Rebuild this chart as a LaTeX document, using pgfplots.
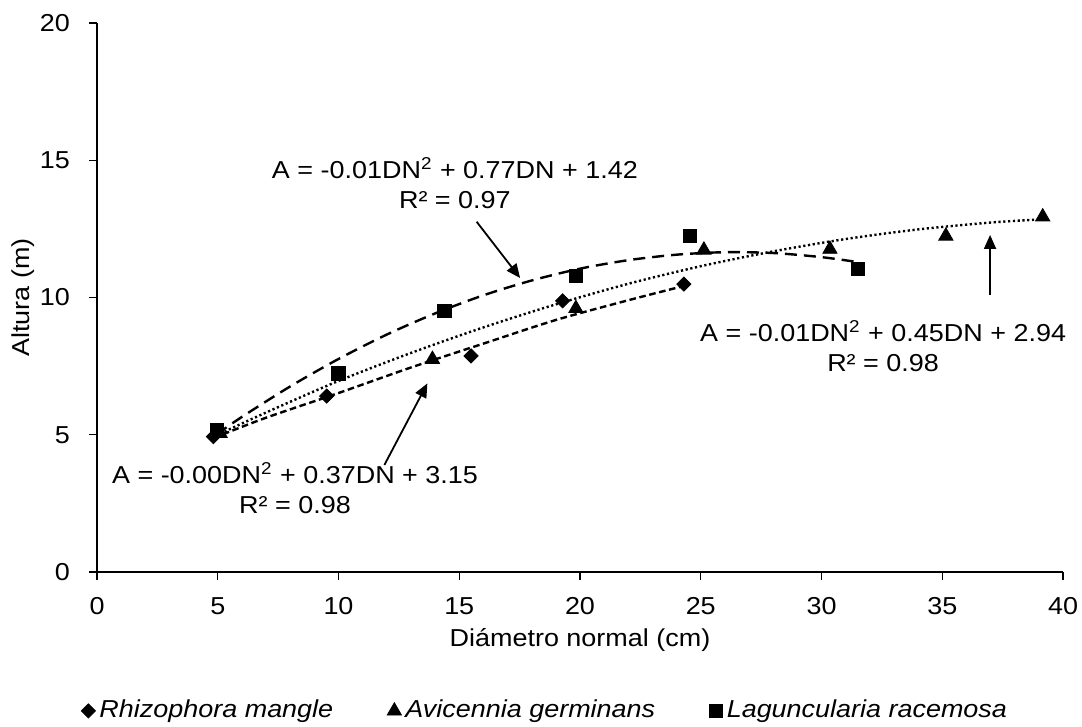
\documentclass[border=0pt]{standalone}
\usepackage{pgfplots}
\pgfplotsset{compat=1.18}
\usepackage{fontspec}
\setmainfont{Liberation Sans}[FakeStretch=1.1]
\usetikzlibrary{arrows.meta}

\begin{document}
\fontsize{12.3}{15}\selectfont
\begin{tikzpicture}
\begin{axis}[
  width=483bp, height=274.5bp, scale only axis,
  xmin=0, xmax=40, ymin=0, ymax=20,
  xtick={0,5,...,40}, ytick={0,5,...,20},
  axis x line=bottom, axis y line=left,
  axis line style={-, black, line width=0.6bp},
  tick align=outside, major tick length=3.8bp,
  tick style={black, line width=0.6bp},
  xticklabel style={yshift=-4.5bp},
  yticklabel style={xshift=-5.5bp},
  /pgf/number format/assume math mode=true,
  xlabel={Diámetro normal (cm)},
  ylabel={Altura (m)},
  xlabel style={at={(axis description cs:0.5,-0.124)}, anchor=center},
  ylabel style={at={(axis description cs:-0.0766,0.5)}, anchor=center},
  legend style={at={(axis description cs:0.465,-0.253)}, anchor=center,
    draw=none, legend columns=3,
    font=\fontsize{12.3}{15}\selectfont\itshape,
    /tikz/every even column/.append style={column sep=25bp}},
  legend cell align=left,
  clip=false,
]
% measured points
\addplot[only marks, mark=square*, mark size=2.5bp, mark options={rotate=45, black}]
  coordinates {(4.82,4.93) (9.51,6.41) (15.49,7.87) (19.28,9.88) (24.30,10.49)};
\addplot[only marks, mark=triangle*, mark size=4.1bp, mark options={black}]
  coordinates {(5.10,5.05) (13.89,7.75) (19.83,9.60) (25.13,11.73) (30.35,11.76) (35.15,12.24) (39.16,12.94)};
\addplot[only marks, mark=square*, mark size=3.4bp, mark options={black}]
  coordinates {(4.96,5.17) (9.99,7.24) (14.38,9.51) (19.83,10.78) (24.55,12.24) (31.50,11.04)};
\legend{Rhizophora mangle, Avicennia germinans, Laguncularia racemosa}

% trend lines
\addplot[forget plot, black, line width=1.2bp, dash pattern=on 3.3bp off 1.8bp, smooth]
  coordinates {(4.82,4.88) (7,5.62) (10,6.52) (13,7.45) (16,8.32) (19,9.18) (22,9.90) (24.3,10.42)};
\addplot[forget plot, black, line width=1.2bp, dash pattern=on 1.1bp off 1.3bp, smooth]
  coordinates {(5.1,5.04) (7,5.81) (10,6.96) (13,7.98) (16,8.91) (19,9.75) (22,10.50) (25,11.14) (28,11.68) (31,12.13) (34,12.48) (37,12.73) (39.16,12.85)};
\addplot[forget plot, black, line width=1.2bp, dash pattern=on 6bp off 3.5bp, smooth]
  coordinates {(4.96,5.02) (6,5.65) (8,6.76) (10,7.76) (12,8.65) (14,9.42) (16,10.08) (18,10.62) (20,11.05) (22,11.36) (24,11.56) (26,11.65) (28,11.62) (30,11.47) (31.5,11.29)};

% equations and arrows
\node[align=center, inner sep=0pt] at (axis cs:14.82,14.17)
  {A = -0.01DN\textsuperscript{2} + 0.77DN + 1.42\\R² = 0.97};
\node[align=center, inner sep=0pt] at (axis cs:32.55,8.23)
  {A = -0.01DN\textsuperscript{2} + 0.45DN + 2.94\\R² = 0.98};
\node[align=center, inner sep=0pt] at (axis cs:8.2,3.06)
  {A = -0.00DN\textsuperscript{2} + 0.37DN + 3.15\\R² = 0.98};
\draw[line width=0.9bp, -{Triangle[length=7bp,width=6bp]}] (axis cs:15.72,12.76) -- (axis cs:17.52,10.71);
\draw[line width=0.9bp, -{Triangle[length=7bp,width=6bp]}] (axis cs:36.98,10.09) -- (axis cs:36.98,12.28);
\draw[line width=0.9bp, -{Triangle[length=7bp,width=6bp]}] (axis cs:11.9,3.9) -- (axis cs:13.68,6.87);

\coordinate (sw) at (rel axis cs:0,0);
\coordinate (ne) at (rel axis cs:1,1);
\end{axis}
\pgfresetboundingbox
\path ([shift={(-48.5bp,-77.5bp)}]sw) rectangle ([shift={(9.5bp,11.5bp)}]ne);
\end{tikzpicture}
\end{document}
